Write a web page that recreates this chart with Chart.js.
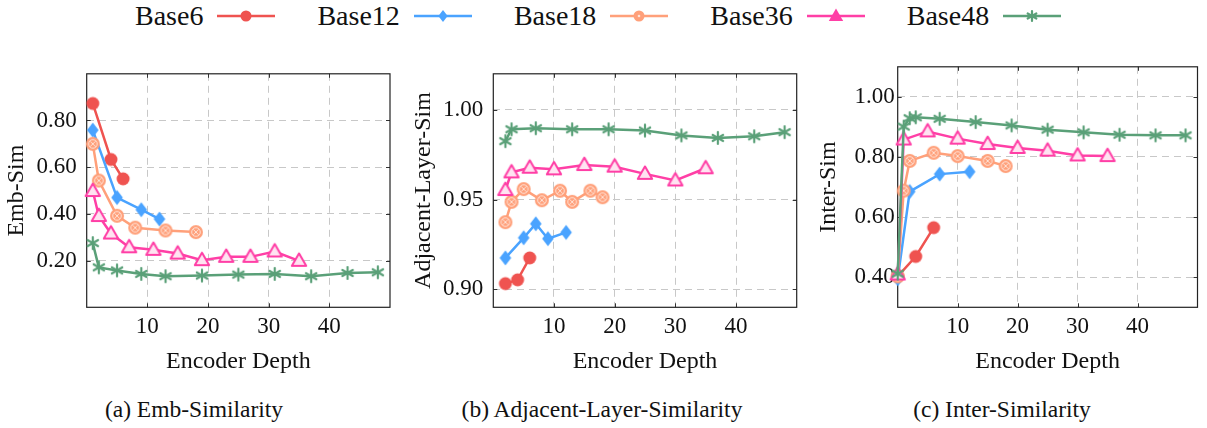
<!DOCTYPE html>
<html>
<head>
<meta charset="utf-8">
<script src="https://cdn.jsdelivr.net/npm/chart.js@4.4.1/dist/chart.umd.min.js"></script>
<style>
body{margin:0;background:#fff;width:1207px;height:428px;position:relative;overflow:hidden;font-family:'Liberation Serif','Times New Roman',Times,serif;color:#111;}
.panel{position:absolute;top:50px;}
#legend{position:absolute;left:135px;top:0;height:32px;display:flex;align-items:center;font-size:28px;white-space:nowrap;}
.item{display:flex;align-items:center;margin-right:42px;}
.item canvas{margin-left:14px;}
.cap{position:absolute;top:396px;font-size:23.5px;line-height:26px;transform:translateX(-50%);white-space:nowrap;}
</style>
</head>
<body>
<div id="legend"></div>
<canvas id="embChart" class="panel" width="400" height="330" style="left:0px"></canvas>
<canvas id="adjChart" class="panel" width="407" height="330" style="left:400px"></canvas>
<canvas id="interChart" class="panel" width="407" height="330" style="left:800px"></canvas>
<div class="cap" style="left:194px">(a) Emb-Similarity</div>
<div class="cap" style="left:602px">(b) Adjacent-Layer-Similarity</div>
<div class="cap" style="left:1002px">(c) Inter-Similarity</div>

<script>
var seriesNames = ['Base6', 'Base12', 'Base18', 'Base36', 'Base48'];
var seriesColors = ['#ef5350', '#4aa3ff', '#ffa07a', '#ff3fa6', '#5aa078'];
var depthTicks = [10, 20, 30, 40];

// (a) Emb-Sim
var embDepth6 = [1, 4, 6];
var embSim6 = [0.873, 0.633, 0.550];
var embDepth12 = [1, 5, 9, 12];
var embSim12 = [0.759, 0.470, 0.418, 0.378];
var embDepth18 = [1, 2, 5, 8, 13, 18];
var embSim18 = [0.700, 0.543, 0.392, 0.341, 0.329, 0.322];
var embDepth36 = [1, 2, 4, 7, 11, 15, 19, 23, 27, 31, 35];
var embSim36 = [0.498, 0.391, 0.316, 0.257, 0.246, 0.230, 0.202, 0.216, 0.216, 0.239, 0.199];
var embDepth48 = [1, 2, 5, 9, 13, 19, 25, 31, 37, 43, 48];
var embSim48 = [0.275, 0.171, 0.158, 0.143, 0.133, 0.136, 0.140, 0.143, 0.133, 0.147, 0.150];
var embTicks = [0.2, 0.4, 0.6, 0.8];

// (b) Adjacent-Layer-Sim
var adjDepth6 = [2, 4, 6];
var adjSim6 = [0.9032, 0.9053, 0.9175];
var adjDepth12 = [2, 5, 7, 9, 12];
var adjSim12 = [0.9175, 0.9287, 0.9365, 0.9282, 0.9317];
var adjDepth18 = [2, 3, 5, 8, 11, 13, 16, 18];
var adjSim18 = [0.9374, 0.9487, 0.9558, 0.9496, 0.9549, 0.9487, 0.9549, 0.9513];
var adjDepth36 = [2, 3, 6, 10, 15, 20, 25, 30, 35];
var adjSim36 = [0.9553, 0.9651, 0.9677, 0.9668, 0.9692, 0.9683, 0.9643, 0.9606, 0.9674];
var adjDepth48 = [2, 3, 7, 13, 19, 25, 31, 37, 43, 48];
var adjSim48 = [0.9825, 0.9891, 0.9897, 0.9891, 0.9891, 0.9884, 0.9857, 0.9843, 0.9852, 0.9875];
var adjTicks = [0.90, 0.95, 1.00];

// (c) Inter-Sim
var interDepth6 = [0, 3, 6];
var interSim6 = [0.403, 0.469, 0.565];
var interDepth12 = [0, 2, 7, 12];
var interSim12 = [0.395, 0.685, 0.743, 0.751];
var interDepth18 = [0, 1, 2, 6, 10, 15, 18];
var interSim18 = [0.403, 0.688, 0.787, 0.814, 0.803, 0.787, 0.770];
var interDepth36 = [0, 1, 5, 10, 15, 20, 25, 30, 35];
var interSim36 = [0.409, 0.858, 0.885, 0.861, 0.843, 0.830, 0.821, 0.805, 0.803];
var interDepth48 = [0, 1, 2, 3, 7, 13, 19, 25, 31, 37, 43, 48];
var interSim48 = [0.412, 0.901, 0.929, 0.932, 0.927, 0.916, 0.905, 0.891, 0.882, 0.874, 0.872, 0.872];
var interTicks = [0.4, 0.6, 0.8, 1.0];

var FONT = "'Liberation Serif', 'Times New Roman', Times, serif";

// marker pictures, drawn once and handed to chart.js as pointStyle
function makeMarker(kind, color, legend){
    var c = document.createElement('canvas');
    c.width = 20; c.height = 20;
    var g = c.getContext('2d');
    g.translate(10, 10);
    g.fillStyle = color;
    g.strokeStyle = color;
    if (kind == 'circle'){
        g.beginPath(); g.arc(0, 0, legend ? 5.5 : 6.5, 0, Math.PI * 2); g.fill();
    } else if (kind == 'diamond'){
        var s = legend ? 0.8 : 1;
        g.beginPath(); g.moveTo(0, -7.5 * s); g.lineTo(5.8 * s, 0); g.lineTo(0, 7.5 * s); g.lineTo(-5.8 * s, 0); g.closePath(); g.fill();
    } else if (kind == 'otimes'){
        var r = legend ? 5.5 : 7;
        g.beginPath(); g.arc(0, 0, r, 0, Math.PI * 2); g.fill();
        g.strokeStyle = 'rgba(255,255,255,0.7)';
        g.lineWidth = 1;
        if (!legend){
            g.beginPath(); g.arc(0, 0, 4.3, 0, Math.PI * 2); g.stroke();
            g.beginPath();
            g.moveTo(-2.6, -2.6); g.lineTo(2.6, 2.6);
            g.moveTo(2.6, -2.6); g.lineTo(-2.6, 2.6);
            g.stroke();
        } else {
            g.fillStyle = 'rgba(255,255,255,0.7)';
            g.beginPath(); g.arc(0, 0, 1.3, 0, Math.PI * 2); g.fill();
        }
    } else if (kind == 'triangle'){
        g.beginPath(); g.moveTo(0, -7.5); g.lineTo(7.2, 5); g.lineTo(-7.2, 5); g.closePath();
        if (legend){
            g.fill();
        } else {
            g.fillStyle = '#ffe3f1';
            g.fill();
            g.lineWidth = 2;
            g.lineJoin = 'round';
            g.stroke();
        }
    } else if (kind == 'star'){
        g.lineWidth = 2.2;
        g.lineCap = 'round';
        var rr = legend ? 5 : 6;
        g.beginPath();
        for (var k = 0; k < 3; k++){
            var a = Math.PI / 2 + k * Math.PI / 3;
            g.moveTo(Math.cos(a) * rr, Math.sin(a) * rr);
            g.lineTo(-Math.cos(a) * rr, -Math.sin(a) * rr);
        }
        g.stroke();
    }
    return c;
}

var markerKinds = ['circle', 'diamond', 'otimes', 'triangle', 'star'];
var plotMarkers = [];
for (var i = 0; i < markerKinds.length; i++){
    plotMarkers.push(makeMarker(markerKinds[i], seriesColors[i], false));
}

// legend: name first, then the line sample
var legendBox = document.getElementById('legend');
for (var i = 0; i < seriesNames.length; i++){
    var item = document.createElement('div');
    item.className = 'item';
    var txt = document.createElement('span');
    txt.textContent = seriesNames[i];
    item.appendChild(txt);
    var lc = document.createElement('canvas');
    lc.width = 58; lc.height = 22;
    var g = lc.getContext('2d');
    g.strokeStyle = seriesColors[i];
    g.lineWidth = 2.5;
    g.beginPath(); g.moveTo(0, 11); g.lineTo(58, 11); g.stroke();
    g.drawImage(makeMarker(markerKinds[i], seriesColors[i], true), 19, 1);
    item.appendChild(lc);
    legendBox.appendChild(item);
}

// pgfplots style box with inner tick marks
var framePlugin = {
    id: 'frame',
    beforeDatasetsDraw: function(chart){
        var ctx = chart.ctx, a = chart.chartArea;
        var xs = chart.scales.x, ys = chart.scales.y;
        ctx.save();
        ctx.strokeStyle = '#333';
        ctx.lineWidth = 1;
        ctx.beginPath();
        for (var t of xs.ticks){
            var px = Math.round(xs.getPixelForValue(t.value)) + 0.5;
            ctx.moveTo(px, a.bottom); ctx.lineTo(px, a.bottom - 4);
            ctx.moveTo(px, a.top); ctx.lineTo(px, a.top + 4);
        }
        for (var t of ys.ticks){
            var py = Math.round(ys.getPixelForValue(t.value)) + 0.5;
            ctx.moveTo(a.left, py); ctx.lineTo(a.left + 4, py);
            ctx.moveTo(a.right, py); ctx.lineTo(a.right - 4, py);
        }
        ctx.stroke();
        ctx.strokeStyle = '#222';
        ctx.lineWidth = 1.2;
        ctx.strokeRect(a.left, a.top, a.right - a.left, a.bottom - a.top);
        ctx.restore();
    }
};

function makePanel(id, yTitle, yMin, yMax, yTicks, yWidth, yTitlePad, yTickPad, padRight, xLists, yLists){
    var datasets = [];
    for (var i = 0; i < seriesNames.length; i++){
        var pts = [];
        for (var j = 0; j < xLists[i].length; j++){
            pts.push({x: xLists[i][j], y: yLists[i][j]});
        }
        datasets.push({
            label: seriesNames[i],
            data: pts,
            borderColor: seriesColors[i],
            backgroundColor: seriesColors[i],
            borderWidth: 2.5,
            pointStyle: plotMarkers[i],
            pointRadius: 7,
            tension: 0,
            clip: false,
            order: seriesNames.length - i
        });
    }
    var ctx = document.getElementById(id).getContext('2d');
    return new Chart(ctx, {
        type: 'line',
        data: {datasets: datasets},
        options: {
            responsive: false,
            animation: false,
            layout: {padding: {left: 0, right: padRight, top: 15, bottom: 0}},
            plugins: {legend: {display: false}, tooltip: {enabled: false}},
            scales: {
                x: {
                    type: 'linear',
                    min: 0, max: 50,
                    afterBuildTicks: function(s){ s.ticks = depthTicks.map(function(v){ return {value: v}; }); },
                    afterFit: function(s){ s.height = 72.7; },
                    grid: {color: '#c8c8c8', lineWidth: 1, drawTicks: false},
                    border: {display: false, dash: [7, 5]},
                    ticks: {padding: 6, color: '#111', font: {family: FONT, size: 23}, maxRotation: 0,
                        callback: function(v){ return String(v); }},
                    title: {display: true, text: 'Encoder Depth', color: '#111',
                        font: {family: FONT, size: 24}, padding: {top: 0, bottom: 3.5}}
                },
                y: {
                    type: 'linear',
                    min: yMin, max: yMax,
                    afterBuildTicks: function(s){ s.ticks = yTicks.map(function(v){ return {value: v}; }); },
                    afterFit: function(s){ s.width = yWidth; },
                    grid: {color: '#c8c8c8', lineWidth: 1, drawTicks: false},
                    border: {display: false, dash: [7, 5]},
                    ticks: {padding: yTickPad, color: '#111', font: {family: FONT, size: 23},
                        callback: function(v){ return Number(v).toFixed(2); }},
                    title: {display: true, text: yTitle, color: '#111',
                        font: {family: FONT, size: 24}, padding: {top: yTitlePad, bottom: 0}}
                }
            }
        },
        plugins: [framePlugin]
    });
}

makePanel('embChart', 'Emb-Sim', 0, 1.0, embTicks, 86.7, 2.3, 10, 10,
    [embDepth6, embDepth12, embDepth18, embDepth36, embDepth48],
    [embSim6, embSim12, embSim18, embSim36, embSim48]);

makePanel('adjChart', 'Adjacent-Layer-Sim', 0.89, 1.02, adjTicks, 93.3, 9.6, 10, 10.3,
    [adjDepth6, adjDepth12, adjDepth18, adjDepth36, adjDepth48],
    [adjSim6, adjSim12, adjSim18, adjSim36, adjSim48]);

makePanel('interChart', 'Inter-Sim', 0.3, 1.1, interTicks, 97.7, 14.6, 3, 5.3,
    [interDepth6, interDepth12, interDepth18, interDepth36, interDepth48],
    [interSim6, interSim12, interSim18, interSim36, interSim48]);
</script>
</body>
</html>
